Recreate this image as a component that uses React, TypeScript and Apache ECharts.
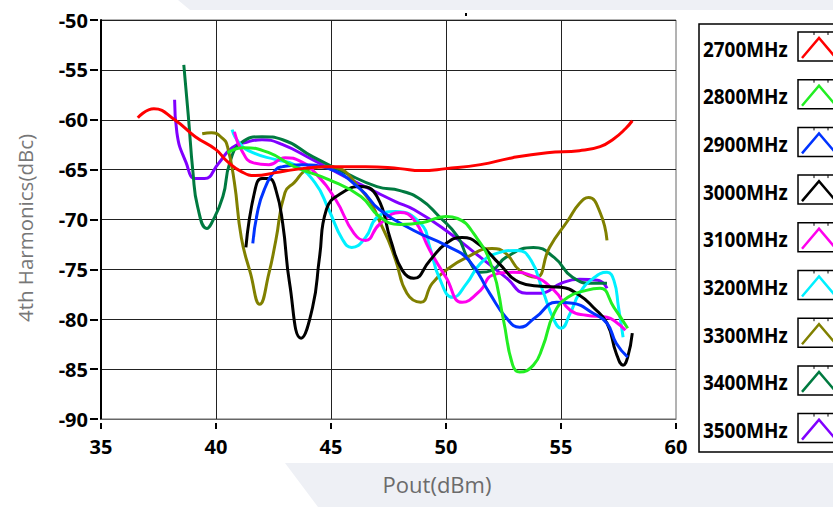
import React, { useEffect, useRef } from 'react';
import * as echarts from 'echarts';

const SERIES_NAMES = ['2700MHz', '2800MHz', '2900MHz', '3000MHz', '3100MHz', '3200MHz', '3300MHz', '3400MHz', '3500MHz'];
const SERIES_COLORS = ['#ff0000', '#22ee22', '#0033ff', '#000000', '#ff00ee', '#00f0ff', '#808000', '#007a40', '#8000ff'];

const X_TICKS = [35, 40, 45, 50, 55, 60];
const Y_TICKS = [-90, -85, -80, -75, -70, -65, -60, -55, -50];

const s2700 = [[36.6,-59.8],[37.3,-58.9],[38.2,-60.0],[39.1,-61.7],[40.0,-63.0],[40.5,-64.2],[41.1,-65.2],[41.7,-65.6],[42.6,-65.3],[43.4,-65.0],[44.9,-64.7],[46.5,-64.7],[48.0,-64.9],[48.9,-65.1],[50.0,-64.9],[51.5,-64.5],[52.9,-63.8],[54.4,-63.3],[55.8,-63.1],[56.7,-62.7],[57.3,-61.9],[57.8,-60.9],[58.1,-60.1]];
const s2800 = [[40.5,-63.3],[41.2,-62.8],[42.3,-63.3],[43.4,-64.7],[44.9,-66.0],[46.3,-67.7],[47.1,-69.7],[48.0,-70.5],[49.0,-70.3],[50.0,-69.7],[50.5,-69.9],[51.2,-71.4],[52.0,-74.8],[52.5,-80.1],[52.9,-84.6],[53.2,-85.3],[53.8,-84.6],[54.2,-82.8],[54.7,-79.4],[55.3,-77.8],[56.1,-77.1],[56.7,-76.9],[57.3,-78.8],[57.9,-80.9]];
const s2900 = [[41.6,-72.4],[41.8,-69.3],[42.1,-67.0],[42.6,-65.0],[42.9,-64.7],[43.7,-64.5],[44.9,-64.9],[46.3,-67.0],[47.1,-69.0],[48.6,-71.1],[50.0,-72.6],[51.0,-74.1],[51.9,-77.4],[52.6,-79.8],[53.2,-80.8],[53.9,-79.8],[54.8,-78.3],[55.5,-78.4],[56.4,-79.4],[57.0,-80.4],[57.4,-82.4],[57.9,-83.8]];
const s3000 = [[41.3,-72.8],[41.7,-67.0],[42.0,-65.9],[42.3,-65.9],[42.6,-67.0],[42.9,-70.4],[43.2,-76.4],[43.7,-81.9],[44.2,-78.8],[44.5,-73.8],[44.8,-69.0],[45.5,-67.3],[46.3,-66.7],[47.0,-67.7],[47.6,-72.1],[48.1,-75.1],[48.6,-75.9],[49.3,-74.1],[50.0,-72.4],[50.7,-71.8],[51.5,-72.6],[52.3,-74.4],[53.2,-76.3],[54.1,-76.7],[55.0,-76.8],[55.8,-77.6],[56.4,-78.8],[57.0,-80.4],[57.4,-83.4],[57.7,-84.6],[57.9,-83.8],[58.1,-81.4]];
const s3100 = [[40.8,-61.2],[41.1,-63.0],[41.6,-64.3],[42.3,-64.5],[43.0,-63.8],[43.7,-64.2],[44.3,-65.3],[45.2,-68.0],[46.0,-71.4],[46.5,-72.1],[47.1,-70.5],[48.0,-69.3],[48.6,-70.0],[49.3,-73.1],[50.0,-75.8],[50.7,-78.3],[51.5,-77.1],[52.0,-75.6],[52.9,-75.3],[53.7,-75.6],[54.7,-77.1],[55.4,-79.1],[56.1,-79.6],[57.0,-79.8],[57.4,-80.3],[57.8,-81.1]];
const s3200 = [[40.7,-61.0],[41.0,-62.3],[41.6,-63.3],[42.6,-64.0],[43.4,-64.5],[44.3,-66.3],[44.9,-69.0],[45.5,-72.0],[45.9,-72.8],[46.5,-71.8],[47.0,-69.8],[47.8,-69.2],[48.9,-70.4],[49.3,-72.8],[49.7,-75.8],[50.3,-77.8],[50.9,-76.4],[51.5,-74.4],[52.2,-73.4],[53.1,-73.1],[53.7,-74.1],[54.2,-77.1],[54.7,-80.1],[55.0,-80.9],[55.4,-79.4],[55.8,-77.4],[56.4,-75.9],[57.0,-75.3],[57.3,-76.1],[57.5,-78.8],[57.7,-81.8]];
const s3300 = [[39.4,-61.4],[39.8,-61.3],[40.3,-61.9],[40.5,-62.7],[40.8,-66.3],[41.1,-71.8],[41.5,-75.4],[41.9,-78.5],[42.3,-75.4],[42.6,-72.1],[43.0,-67.3],[43.4,-66.3],[44.0,-65.0],[44.9,-64.7],[46.3,-67.0],[47.3,-71.1],[47.8,-74.0],[48.3,-77.4],[48.9,-78.3],[49.4,-76.4],[50.0,-75.1],[50.9,-73.8],[52.0,-72.9],[52.6,-73.4],[53.2,-75.1],[53.9,-75.8],[54.5,-72.8],[55.3,-70.1],[55.8,-68.4],[56.2,-67.8],[56.7,-69.3],[57.0,-72.1]];
const s3400 = [[38.6,-54.5],[38.8,-59.7],[39.0,-65.3],[39.2,-68.7],[39.6,-70.9],[39.8,-70.4],[40.3,-67.7],[40.6,-64.3],[41.1,-62.3],[42.0,-61.7],[42.9,-62.0],[44.2,-63.7],[45.6,-65.3],[47.0,-66.7],[48.0,-67.1],[48.9,-68.0],[49.7,-69.7],[50.5,-71.7],[51.0,-74.1],[51.5,-75.3],[52.0,-75.1],[52.6,-73.8],[53.8,-72.8],[54.7,-73.8],[55.5,-75.8],[56.4,-76.4],[57.0,-76.4]];
const s3500 = [[38.2,-58.0],[38.3,-61.3],[38.7,-64.3],[39.1,-65.9],[39.5,-65.9],[40.1,-64.4],[40.7,-62.8],[41.4,-62.2],[42.0,-62.0],[42.9,-62.5],[44.2,-64.0],[45.6,-65.7],[47.0,-67.3],[47.8,-68.2],[48.6,-69.0],[50.0,-71.1],[51.5,-73.8],[52.6,-75.8],[53.5,-77.4],[54.1,-77.4],[55.0,-76.4],[55.8,-76.0],[56.6,-76.1],[57.0,-76.9]];

const SERIES_DATA = [s2700, s2800, s2900, s3000, s3100, s3200, s3300, s3400, s3500];

const BOLD_FONT = '"Open Sans", "DejaVu Sans", sans-serif';

export default function App() {
  const ref = useRef<HTMLDivElement>(null);
  useEffect(() => {
    const chart = echarts.init(ref.current as HTMLDivElement, null, { renderer: 'svg' });

    const legendEls: any[] = [];
    const step = 47.7;
    legendEls.push({
      type: 'rect', z: 10,
      shape: { x: 699, y: 24, width: 160, height: 428 },
      style: { fill: '#fff', stroke: '#000', lineWidth: 1.5 },
    });
    SERIES_NAMES.forEach((name, i) => {
      const top = 32 + step * i;
      legendEls.push({
        type: 'text', z: 11, x: 703, y: top + 16, scaleX: 0.86,
        style: { text: name, font: `bold 22px ${BOLD_FONT}`, fill: '#000', textVerticalAlign: 'middle', textAlign: 'left' },
      });
      legendEls.push({
        type: 'rect', z: 11,
        shape: { x: 798, y: top, width: 42, height: 29 },
        style: { fill: '#fff', stroke: '#000', lineWidth: 1.5 },
      });
      legendEls.push({ type: 'line', z: 12, shape: { x1: 814, y1: top, x2: 814, y2: top + 3 }, style: { stroke: '#000', lineWidth: 1 } });
      legendEls.push({ type: 'line', z: 12, shape: { x1: 828, y1: top, x2: 828, y2: top + 3 }, style: { stroke: '#000', lineWidth: 1 } });
      legendEls.push({
        type: 'polyline', z: 12,
        shape: { points: [[802, top + 26], [819, top + 6], [836, top + 26]] },
        style: { stroke: SERIES_COLORS[i], lineWidth: 2.5, fill: 'none' },
      });
    });

    const bgEls = [
      { type: 'polygon', z: -10, shape: { points: [[178, 0], [833, 0], [833, 10], [190, 10]] }, style: { fill: '#eef0f5' } },
      { type: 'polygon', z: -10, shape: { points: [[285, 463], [833, 463], [833, 507], [318, 507]] }, style: { fill: '#eef0f5' } },
      { type: 'rect', z: 5, shape: { x: 465, y: 13, width: 2, height: 3 }, style: { fill: '#000' } },
    ];

    const option: any = {
      animation: false,
      backgroundColor: '#fff',
      textStyle: { fontFamily: BOLD_FONT },
      grid: { left: 101, right: 157, top: 20, bottom: 88, show: true, borderColor: '#666', borderWidth: 1 },
      xAxis: [
        {
          type: 'value', min: X_TICKS[0], max: X_TICKS[X_TICKS.length - 1], interval: 5, position: 'bottom',
          axisLine: { show: true, onZero: false, lineStyle: { color: '#666', width: 1 } },
          axisTick: { show: false }, axisLabel: { show: false },
          splitLine: { show: true, showMaxLine: false, lineStyle: { color: '#222', width: 1 } },
          name: 'Pout(dBm)', nameLocation: 'middle', nameGap: 54,
          nameTextStyle: { fontFamily: '"Open Sans", sans-serif', fontSize: 22, color: '#6b6b6b', padding: [0, 0, 0, 97] },
        },
        {
          type: 'value', min: X_TICKS[0], max: X_TICKS[X_TICKS.length - 1], interval: 5, position: 'bottom', offset: 4,
          axisLine: { show: false, onZero: false },
          axisTick: { show: true, length: 6, lineStyle: { color: '#000', width: 2 } },
          axisLabel: { show: true, margin: 13, fontSize: 20, fontWeight: 'bold', color: '#000', fontFamily: BOLD_FONT },
          splitLine: { show: false },
        },
      ],
      yAxis: [
        {
          type: 'value', min: Y_TICKS[0], max: Y_TICKS[Y_TICKS.length - 1], interval: 5, position: 'left',
          axisLine: { show: true, onZero: false, lineStyle: { color: '#000', width: 2 } },
          axisTick: { show: false }, axisLabel: { show: false },
          splitLine: { show: true, showMinLine: false, lineStyle: { color: '#222', width: 1 } },
          name: '4th Harmonics(dBc)', nameLocation: 'middle', nameGap: 66, nameRotate: 90,
          nameTextStyle: { fontFamily: '"Open Sans", sans-serif', fontSize: 20.5, color: '#777', padding: [0, 17, 0, 0] },
        },
        {
          type: 'value', min: Y_TICKS[0], max: Y_TICKS[Y_TICKS.length - 1], interval: 5, position: 'left', offset: 3,
          axisLine: { show: false, onZero: false },
          axisTick: { show: true, length: 8, lineStyle: { color: '#000', width: 2 } },
          axisLabel: { show: true, margin: 10, fontSize: 20, fontWeight: 'bold', color: '#000', fontFamily: BOLD_FONT },
          splitLine: { show: false },
        },
      ],
      series: SERIES_DATA.map((d, i) => ({
        name: SERIES_NAMES[i],
        type: 'line',
        data: d,
        xAxisIndex: 0,
        yAxisIndex: 0,
        smooth: true,
        showSymbol: false,
        symbol: 'none',
        z: 20 - i,
        lineStyle: { width: 3, color: SERIES_COLORS[i] },
        itemStyle: { color: SERIES_COLORS[i] },
      })),
      graphic: [...bgEls, ...legendEls],
    };
    chart.setOption(option);
    return () => chart.dispose();
  }, []);
  return <div ref={ref} style={{ position: 'absolute', left: 0, top: 0, width: 833, height: 507 }} />;
}
